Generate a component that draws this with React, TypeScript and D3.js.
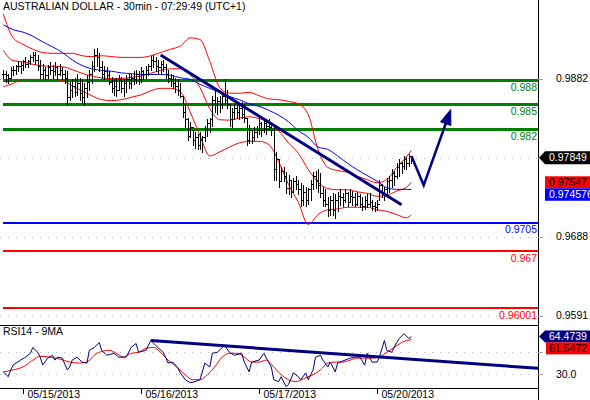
import React from 'react';
import * as d3 from 'd3';

const TITLE = 'AUSTRALIAN DOLLAR - 30min - 07:29:49 (UTC+1)';
const RSI_TITLE = 'RSI14 - 9MA';
const DATE_LABELS = ['05/15/2013', '05/16/2013', '05/17/2013', '05/20/2013'];
const DATE_BARS = [8, 56, 104, 152];

const HIGH = [0.9893,0.9891,0.9888,0.9896,0.9898,0.9899,0.9903,0.9902,0.9905,0.9908,
0.9905,0.9911,0.9915,0.9915,0.9911,0.9905,0.9900,0.9896,0.9899,0.9902,
0.9899,0.9902,0.9898,0.9900,0.9896,0.9893,0.9891,0.9878,0.9881,0.9883,
0.9888,0.9883,0.9881,0.9876,0.9886,0.9893,0.9903,0.9918,0.9920,0.9914,
0.9903,0.9898,0.9896,0.9891,0.9884,0.9881,0.9883,0.9886,0.9884,0.9881,
0.9886,0.9888,0.9887,0.9891,0.9893,0.9891,0.9896,0.9893,0.9898,0.9900,
0.9910,0.9911,0.9909,0.9905,0.9903,0.9905,0.9900,0.9893,0.9888,0.9886,
0.9883,0.9881,0.9876,0.9861,0.9851,0.9834,0.9829,0.9819,0.9817,0.9814,
0.9817,0.9812,0.9824,0.9832,0.9834,0.9861,0.9868,0.9859,0.9860,0.9866,
0.9881,0.9868,0.9849,0.9846,0.9851,0.9851,0.9849,0.9853,0.9851,0.9832,
0.9825,0.9819,0.9822,0.9824,0.9832,0.9829,0.9832,0.9829,0.9832,0.9827,
0.9823,0.9792,0.9783,0.9774,0.9773,0.9767,0.9764,0.9758,0.9760,0.9762,
0.9758,0.9754,0.9751,0.9749,0.9748,0.9758,0.9767,0.9768,0.9771,0.9766,
0.9749,0.9746,0.9737,0.9738,0.9742,0.9740,0.9743,0.9746,0.9742,0.9746,
0.9743,0.9746,0.9744,0.9742,0.9743,0.9740,0.9737,0.9738,0.9740,0.9742,
0.9733,0.9730,0.9733,0.9757,0.9753,0.9749,0.9760,0.9763,0.9771,0.9768,
0.9778,0.9783,0.9780,0.9787,0.9786,0.9790,0.9787];

const LOW = [0.9883,0.9878,0.9876,0.9883,0.9886,0.9888,0.9891,0.9889,0.9893,0.9896,
0.9896,0.9900,0.9903,0.9900,0.9893,0.9883,0.9883,0.9881,0.9883,0.9887,
0.9883,0.9886,0.9881,0.9886,0.9881,0.9877,0.9849,0.9856,0.9859,0.9861,
0.9862,0.9856,0.9853,0.9849,0.9859,0.9868,0.9876,0.9891,0.9898,0.9891,
0.9883,0.9881,0.9883,0.9875,0.9866,0.9862,0.9861,0.9868,0.9866,0.9861,
0.9866,0.9871,0.9871,0.9875,0.9876,0.9875,0.9878,0.9881,0.9883,0.9886,
0.9893,0.9896,0.9891,0.9887,0.9888,0.9891,0.9883,0.9878,0.9873,0.9871,
0.9866,0.9862,0.9859,0.9835,0.9823,0.9807,0.9810,0.9800,0.9797,0.9795,
0.9795,0.9792,0.9805,0.9812,0.9817,0.9824,0.9841,0.9839,0.9841,0.9846,
0.9851,0.9846,0.9824,0.9823,0.9832,0.9834,0.9832,0.9834,0.9829,0.9800,
0.9803,0.9803,0.9807,0.9810,0.9814,0.9812,0.9817,0.9814,0.9819,0.9813,
0.9758,0.9758,0.9749,0.9758,0.9756,0.9742,0.9740,0.9737,0.9743,0.9746,
0.9740,0.9725,0.9727,0.9725,0.9728,0.9733,0.9746,0.9748,0.9743,0.9736,
0.9725,0.9725,0.9713,0.9715,0.9714,0.9711,0.9719,0.9727,0.9725,0.9730,
0.9725,0.9731,0.9727,0.9725,0.9727,0.9724,0.9721,0.9722,0.9724,0.9726,
0.9721,0.9719,0.9721,0.9733,0.9736,0.9733,0.9736,0.9743,0.9749,0.9751,
0.9760,0.9762,0.9766,0.9771,0.9771,0.9775,0.9778];

const CLOSE = [0.9888,0.9886,0.9883,0.9893,0.9893,0.9897,0.9898,0.9899,0.9903,0.9900,
0.9904,0.9909,0.9911,0.9905,0.9898,0.9888,0.9893,0.9886,0.9896,0.9893,
0.9891,0.9896,0.9888,0.9893,0.9888,0.9883,0.9859,0.9868,0.9873,0.9866,
0.9876,0.9864,0.9859,0.9871,0.9878,0.9887,0.9898,0.9911,0.9908,0.9896,
0.9888,0.9891,0.9886,0.9878,0.9871,0.9873,0.9868,0.9881,0.9871,0.9876,
0.9881,0.9876,0.9883,0.9881,0.9888,0.9881,0.9891,0.9888,0.9893,0.9898,
0.9905,0.9903,0.9898,0.9896,0.9900,0.9896,0.9888,0.9883,0.9881,0.9876,
0.9873,0.9868,0.9861,0.9841,0.9832,0.9812,0.9822,0.9807,0.9810,0.9800,
0.9807,0.9810,0.9819,0.9827,0.9832,0.9856,0.9849,0.9854,0.9851,0.9861,
0.9856,0.9851,0.9832,0.9841,0.9846,0.9841,0.9846,0.9839,0.9834,0.9807,
0.9819,0.9810,0.9817,0.9819,0.9827,0.9819,0.9827,0.9824,0.9822,0.9819,
0.9771,0.9783,0.9756,0.9768,0.9763,0.9748,0.9758,0.9743,0.9756,0.9753,
0.9746,0.9733,0.9743,0.9733,0.9746,0.9753,0.9763,0.9758,0.9751,0.9741,
0.9733,0.9728,0.9721,0.9733,0.9721,0.9733,0.9738,0.9736,0.9733,0.9741,
0.9731,0.9738,0.9736,0.9728,0.9738,0.9728,0.9726,0.9733,0.9728,0.9731,
0.9726,0.9724,0.9728,0.9751,0.9743,0.9746,0.9756,0.9758,0.9766,0.9763,
0.9773,0.9778,0.9775,0.9783,0.9778,0.9787,0.97849];

const BAND_BARS = [0,4,8,12,16,20,24,28,32,36,40,44,48,52,56,60,64,68,72,76,80,84,88,92,96,100,104,108,112,116,120,124,128,132,136,140,144,148,152,156,160,164,166];
const UPPER = [0.9961,0.9932,0.9924,0.9918,0.9914,0.9913,0.9913,0.9913,0.9910,0.9909,0.9910,0.9909,0.9908,0.9908,0.9908,0.9910,0.9914,0.9918,0.9922,0.9932,0.9930,0.9903,0.9871,0.9864,0.9864,0.9865,0.9861,0.9857,0.9856,0.9854,0.9851,0.9838,0.9795,0.9773,0.9769,0.9767,0.9762,0.9758,0.9754,0.9758,0.9773,0.9786,0.9794];
const MIDDLE = [0.99165,0.9904,0.99025,0.98995,0.98975,0.9897,0.98965,0.9893,0.98885,0.9885,0.9883,0.9882,0.9882,0.98835,0.9885,0.98885,0.9892,0.9894,0.9894,0.98865,0.9871,0.9845,0.98315,0.9831,0.98335,0.9835,0.9833,0.9829,0.9818,0.9803,0.97905,0.97705,0.9755,0.9747,0.97455,0.97455,0.9743,0.9741,0.97375,0.97385,0.9744,0.97485,0.97547];
const LOWER = [0.9872,0.9876,0.9881,0.9881,0.9881,0.9881,0.9880,0.9873,0.9867,0.9861,0.9856,0.9855,0.9856,0.9859,0.9862,0.9867,0.9870,0.9870,0.9866,0.9841,0.9812,0.9787,0.9792,0.9798,0.9803,0.9805,0.9805,0.9801,0.9780,0.9752,0.9730,0.9703,0.9715,0.9721,0.9722,0.9724,0.9724,0.9724,0.9721,0.9719,0.9715,0.9711,0.9715];
const SMA = [0.9948,0.9942,0.9939,0.9934,0.9927,0.9921,0.9914,0.9905,0.9898,0.9894,0.9892,0.9891,0.9889,0.9888,0.9887,0.9887,0.9887,0.9886,0.9883,0.9881,0.9875,0.9870,0.9865,0.9860,0.9856,0.9851,0.9848,0.9843,0.9837,0.9829,0.9818,0.9810,0.9798,0.9795,0.9787,0.9778,0.9770,0.9763,0.9756,0.9748,0.9746,0.9746,0.974576];

const PRICE_TICKS = [0.9882, 0.9785, 0.9688, 0.9591];
const PRICE_LABEL_TICKS = [0.9882, 0.9688, 0.9591];
const LEVEL_VALUES = [0.988, 0.985, 0.982, 0.9705, 0.967, 0.96001];
const LEVEL_LABELS = ['0.988', '0.985', '0.982', '0.9705', '0.967', '0.96001'];
const LEVEL_COLORS = ['#008000', '#008000', '#008000', '#0000ff', '#ff0000', '#ff0000'];

const TREND_BARS = [64, 162];
const TREND_PRICES = [0.9911, 0.9727];
const ARROW_BARS = [166, 171, 182];
const ARROW_PRICES = [0.9787, 0.9751, 0.9844];

const RSI_BARS = [0,2,3,4,7,9,11,12,14,15,16,18,20,21,22,24,26,27,28,30,32,34,35,37,39,40,42,45,47,50,52,54,55,58,60,62,65,66,67,69,71,72,74,76,78,80,82,84,85,87,90,92,94,97,98,100,101,104,106,107,109,110,112,113,115,116,118,120,121,123,124,126,127,129,130,132,133,135,136,139,141,143,145,147,148,150,152,153,155,156,158,160,161,163,165,166];
const RSI_VALUES = [32.2,27.8,34,38.4,42.9,45.6,49.1,54.4,50,45.6,38.4,44.7,47.3,42.9,45.6,44.7,34,36.7,42.9,45.6,41.1,40.2,51.8,54.4,58.9,51.8,47.3,49.1,45.6,45.6,54.4,58,50,51.8,60.7,56.2,50,45.6,40.2,41.1,35.8,31.3,25.1,22.4,23.3,25.1,40.2,36.7,49.1,50,56.2,50,47.3,49.1,41.1,32.2,41.1,42.9,49.1,44.7,36.7,25.1,23.3,27.8,18.9,20.7,31.3,27.8,25.1,31.3,25.1,34,45.6,47.3,42.9,36.7,41.1,32.2,40.2,42.9,44.7,45.6,45.6,38.4,49.1,41.1,41.1,45.6,60.7,51.8,50,58.9,62.4,66.9,62.4,64.4739];
const RSI_MA_BARS = [0,4,8,12,15,19,23,27,31,34,37,39,43,46,49,52,55,58,61,64,67,71,74,77,80,83,86,89,92,95,98,101,104,107,110,113,116,119,123,126,129,132,135,138,141,144,147,150,153,156,159,162,166];
const RSI_MA_VALUES = [32.2,34,36.7,42.9,46.4,45.6,43.8,41.1,40.2,41.1,47.3,50,51.8,49.1,45.6,49.1,50,53.6,54.4,50,42.9,35.8,29.6,25.1,25.1,29.6,36.7,45.6,49.1,49.1,45.6,41.1,41.1,42.9,36.7,29.6,25.1,23.3,26.9,29.6,34,40.2,41.1,41.1,42.9,44.7,44.7,44.7,45.6,50,54.4,58.9,61.5472];
const RSI_GRID = [30, 50];
const RSI_LABEL_TICKS = [30];
const RSI_TREND_BARS = [60, 217.5];
const RSI_TREND_VALUES = [60.7, 35.4];

const FONT = '"Liberation Sans", Arial, sans-serif';
const FS = 10.5;

export default function App() {
  const W = 590, H = 400, AX = 538;
  const MAIN_BOTTOM = 325, RSI_BOTTOM = 388;

  const x = d3.scaleLinear().domain([DATE_BARS[0], DATE_BARS[3]]).range([23, 377]);
  const y = d3.scaleLinear().domain([0.988, 0.96001]).range([80.2, 308.2]);
  const yr = d3.scaleLinear().domain([30, 50]).range([374.3, 352.3]);
  const cx = (i: number) => Math.round(x(i)) + 0.5;
  const cy = (v: number) => Math.round(y(v)) + 0.5;

  let barPath = '';
  CLOSE.forEach((c, i) => {
    const xx = cx(i);
    const o = i > 0 ? CLOSE[i - 1] : c;
    const yh = Math.round(y(HIGH[i]));
    const yl = Math.round(y(LOW[i]));
    barPath += `M${xx},${yh}V${yl + 1}M${xx - 1.5},${cy(o)}H${xx}M${xx},${cy(c)}H${xx + 1.5}`;
  });

  const band = (vals: number[]) =>
    d3.line<number>().x((_, k) => x(BAND_BARS[k])).y((v) => y(v)).curve(d3.curveMonotoneX)(vals) || '';
  const rsiPath = d3.line<number>().x((_, k) => x(RSI_BARS[k])).y((v) => yr(v))(RSI_VALUES) || '';
  const rsiMaPath = d3.line<number>().x((_, k) => x(RSI_MA_BARS[k])).y((v) => yr(v)).curve(d3.curveMonotoneX)(RSI_MA_VALUES) || '';

  // arrow geometry
  const ap = ARROW_BARS.map((b, k) => [x(b), y(ARROW_PRICES[k])]);
  const tip = ap[2];
  const dx = tip[0] - ap[1][0], dy = tip[1] - ap[1][1];
  const len = Math.hypot(dx, dy);
  const ux = dx / len, uy = dy / len;
  const headLen = 15, headW = 5.5;
  const bc = [tip[0] - ux * headLen, tip[1] - uy * headLen];
  const c1 = [bc[0] - uy * headW, bc[1] + ux * headW];
  const c2 = [bc[0] + uy * headW, bc[1] - ux * headW];
  const arrowShaft = `M${ap[0][0]},${ap[0][1]}L${ap[1][0]},${ap[1][1]}L${bc[0] + ux * 2},${bc[1] + uy * 2}`;
  const arrowHead = `M${tip[0]},${tip[1]}L${c1[0]},${c1[1]}L${c2[0]},${c2[1]}Z`;

  const last = CLOSE.length - 1;
  const yc = y(CLOSE[last]);
  const ym = y(MIDDLE[MIDDLE.length - 1]);
  const yv = yr(RSI_VALUES[RSI_VALUES.length - 1]);

  const fmt4 = d3.format('.4f');

  return (
    <svg width={W} height={H} style={{ position: 'absolute', left: 0, top: 0, background: '#fff' }}
      fontFamily={FONT} fontSize={FS}>
      <defs>
        <clipPath id="mainClip"><rect x={0} y={0} width={AX} height={MAIN_BOTTOM} /></clipPath>
        <clipPath id="rsiClip"><rect x={0} y={MAIN_BOTTOM + 1} width={AX} height={RSI_BOTTOM - MAIN_BOTTOM - 1} /></clipPath>
      </defs>
      <rect x={0} y={0} width={W} height={H} fill="#fff" />

      {/* grid */}
      {PRICE_TICKS.map((t) => (
        <line key={'g' + t} x1={0} x2={AX} y1={Math.round(y(t)) + 0.5} y2={Math.round(y(t)) + 0.5}
          stroke="#b4b4b4" strokeDasharray="1 7" shapeRendering="crispEdges" />
      ))}
      {RSI_GRID.map((t) => (
        <line key={'rg' + t} x1={0} x2={AX} y1={Math.round(yr(t)) + 0.5} y2={Math.round(yr(t)) + 0.5}
          stroke="#b4b4b4" strokeDasharray="1 7" shapeRendering="crispEdges" />
      ))}

      <g clipPath="url(#mainClip)">
        {LEVEL_VALUES.map((v, k) => (
          <line key={'l' + k} x1={x(0)} x2={AX} y1={y(v)} y2={y(v)} stroke={LEVEL_COLORS[k]}
            strokeWidth={k < 3 ? 3 : 2} shapeRendering="crispEdges" />
        ))}
        <path d={band(UPPER)} fill="none" stroke="#ff0000" strokeWidth={1} />
        <path d={band(MIDDLE)} fill="none" stroke="#ff0000" strokeWidth={1} />
        <path d={band(LOWER)} fill="none" stroke="#ff0000" strokeWidth={1} />
        <path d={band(SMA)} fill="none" stroke="#0000ff" strokeWidth={1} />
        <path d={barPath} fill="none" stroke="#000" strokeWidth={1} shapeRendering="crispEdges" />
        <line x1={x(TREND_BARS[0])} y1={y(TREND_PRICES[0])} x2={x(TREND_BARS[1])} y2={y(TREND_PRICES[1])}
          stroke="#000080" strokeWidth={3} />
        <path d={arrowShaft} fill="none" stroke="#000080" strokeWidth={2.5} strokeLinejoin="miter" />
        <path d={arrowHead} fill="#000080" stroke="#000080" strokeWidth={1} />
        {LEVEL_VALUES.map((v, k) => (
          <text key={'lt' + k} x={AX - 1} y={y(v) + 10.7} textAnchor="end" fill={LEVEL_COLORS[k]}>{LEVEL_LABELS[k]}</text>
        ))}
      </g>

      <g clipPath="url(#rsiClip)">
        <path d={rsiMaPath} fill="none" stroke="#ff0000" strokeWidth={1} />
        <path d={rsiPath} fill="none" stroke="#000080" strokeWidth={1} />
        <line x1={x(RSI_TREND_BARS[0])} y1={yr(RSI_TREND_VALUES[0])} x2={x(RSI_TREND_BARS[1])} y2={yr(RSI_TREND_VALUES[1])}
          stroke="#000080" strokeWidth={3} />
      </g>

      <line x1={0} x2={AX} y1={MAIN_BOTTOM + 0.5} y2={MAIN_BOTTOM + 0.5} stroke="#000" shapeRendering="crispEdges" />
      <line x1={0} x2={AX} y1={RSI_BOTTOM + 0.5} y2={RSI_BOTTOM + 0.5} stroke="#000" shapeRendering="crispEdges" />
      <line x1={AX + 0.5} x2={AX + 0.5} y1={0} y2={H} stroke="#000" strokeWidth={1.2} shapeRendering="crispEdges" />

      <text x={3} y={10} fill="#000">{TITLE}</text>
      <text x={3} y={335} fill="#000">{RSI_TITLE}</text>

      {PRICE_TICKS.map((t) => (
        <line key={'pt' + t} x1={AX} x2={AX + 5} y1={Math.round(y(t)) + 0.5} y2={Math.round(y(t)) + 0.5} stroke="#a0a0a0" shapeRendering="crispEdges" />
      ))}
      {PRICE_LABEL_TICKS.map((t) => (
        <text key={'pl' + t} x={556} y={y(t) + 3.8} fill="#000">{fmt4(t)}</text>
      ))}
      {RSI_GRID.map((t) => (
        <line key={'rt' + t} x1={AX} x2={AX + 5} y1={Math.round(yr(t)) + 0.5} y2={Math.round(yr(t)) + 0.5} stroke="#a0a0a0" shapeRendering="crispEdges" />
      ))}
      {RSI_LABEL_TICKS.map((t) => (
        <text key={'rl' + t} x={556} y={yr(t) + 3.8} fill="#000">{d3.format('.1f')(t)}</text>
      ))}

      <polygon points={`${AX + 1},${yc} ${AX + 7},${yc - 6.5} ${W},${yc - 6.5} ${W},${yc + 6.5} ${AX + 7},${yc + 6.5}`} fill="#000" />
      <text x={549} y={yc + 3.8} fill="#fff">{d3.format('.5f')(CLOSE[last])}</text>
      <rect x={545} y={ym - 6} width={W - 545} height={12} fill="#ff0000" />
      <text x={549} y={ym + 3.8} fill="#000">{d3.format('.5f')(MIDDLE[MIDDLE.length - 1])}</text>
      <rect x={545} y={ym + 6} width={W - 545} height={12.5} fill="#0000ff" />
      <text x={549} y={ym + 16} fill="#fff">{d3.format('.6f')(SMA[SMA.length - 1])}</text>

      <polygon points={`${AX + 1},${yv} ${AX + 7},${yv - 6} ${W},${yv - 6} ${W},${yv + 6} ${AX + 7},${yv + 6}`} fill="#000080" />
      <text x={549} y={yv + 3.8} fill="#fff">{d3.format('.4f')(RSI_VALUES[RSI_VALUES.length - 1])}</text>
      <rect x={546} y={yv + 6} width={W - 546} height={12} fill="#ff0000" />
      <text x={549} y={yv + 15.8} fill="#000">{d3.format('.4f')(RSI_MA_VALUES[RSI_MA_VALUES.length - 1])}</text>

      {DATE_BARS.map((b, k) => (
        <g key={'d' + k}>
          <line x1={cx(b)} x2={cx(b)} y1={RSI_BOTTOM} y2={RSI_BOTTOM + 6} stroke="#000" shapeRendering="crispEdges" />
          <text x={cx(b) + 4} y={398} fill="#000">{DATE_LABELS[k]}</text>
        </g>
      ))}
    </svg>
  );
}
